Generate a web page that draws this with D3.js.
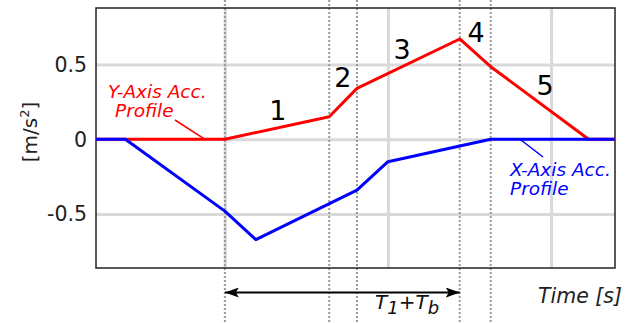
<!DOCTYPE html>
<html>
<head>
<meta charset="utf-8">
<script src="https://cdn.jsdelivr.net/npm/d3@7"></script>
<style>
  html, body { margin: 0; padding: 0; background: #fff; }
  svg { display: block; }
  text { font-family: "DejaVu Sans", sans-serif; }
</style>
</head>
<body>
<svg id="chart" width="625" height="323"></svg>
<script>
// Acceleration profiles (time in s, acceleration in m/s^2)
const yProfileT = [0.21, 1.0, 1.64, 1.81, 2.44, 2.63, 3.23, 3.39];
const yProfileV = [0, 0, 0.15, 0.34, 0.67, 0.485, 0, 0];
const xProfileT = [0.21, 0.39, 1.0, 1.19, 1.81, 2.0, 2.63, 3.39];
const xProfileV = [0, 0, -0.48, -0.67, -0.34, -0.15, 0, 0];

// Phase boundaries (dotted markers) and phase numbers
const phaseBounds = [1.0, 1.64, 1.81, 2.44, 2.63];
const phaseLabels = ["1", "2", "3", "4", "5"];
const phaseLabelT = [1.325, 1.724, 2.086, 2.54, 2.963];
const phaseLabelV = [0.13, 0.35, 0.537, 0.65, 0.297];

const xGridTicks = [1, 2, 3];
const yTicks = [-0.5, 0, 0.5];
const yTickLabels = ["-0.5", "0", "0.5"];

const W = 625, H = 323;
const m = { left: 96, top: 8, right: 10, bottom: 55 };
const x = d3.scaleLinear().domain([0.21, 3.392]).range([m.left, W - m.right]);
const y = d3.scaleLinear().domain([-0.86, 0.877]).range([H - m.bottom, m.top]);

const svg = d3.select("#chart");

// Grid lines
svg.append("g")
  .attr("transform", `translate(0,${H - m.bottom})`)
  .call(d3.axisBottom(x).tickValues(xGridTicks).tickSize(-(H - m.bottom - m.top)).tickFormat(""))
  .call(g => g.select(".domain").remove())
  .call(g => g.selectAll("line").attr("stroke", "#d9d9d9").attr("stroke-width", 3));

svg.append("g")
  .attr("transform", `translate(${m.left},0)`)
  .call(d3.axisLeft(y).tickValues(yTicks).tickSize(-(W - m.right - m.left)).tickFormat(""))
  .call(g => g.select(".domain").remove())
  .call(g => g.selectAll("line").attr("stroke", "#d9d9d9").attr("stroke-width", 3));

// Y tick labels
svg.append("g").selectAll("text")
  .data(yTicks)
  .join("text")
  .attr("x", 87)
  .attr("y", d => y(d))
  .attr("dy", "0.36em")
  .attr("text-anchor", "end")
  .attr("font-size", 20.5)
  .attr("fill", "#222")
  .text((d, i) => yTickLabels[i]);

// Phase boundary markers spanning the whole figure height
svg.append("g").selectAll("line")
  .data(phaseBounds)
  .join("line")
  .attr("x1", d => x(d)).attr("x2", d => x(d))
  .attr("y1", 0).attr("y2", H)
  .attr("stroke", "#999")
  .attr("stroke-width", 2)
  .attr("stroke-dasharray", "2,2");

// Frame
svg.append("rect")
  .attr("x", m.left).attr("y", m.top)
  .attr("width", W - m.right - m.left)
  .attr("height", H - m.bottom - m.top)
  .attr("fill", "none")
  .attr("stroke", "#222")
  .attr("stroke-width", 1.5);

const line = d3.line().x(d => x(d[0])).y(d => y(d[1]));

// Y-axis acceleration (red), then X-axis acceleration (blue) on top
svg.append("path")
  .datum(d3.zip(yProfileT, yProfileV))
  .attr("d", line)
  .attr("fill", "none")
  .attr("stroke", "#ff0000")
  .attr("stroke-width", 3)
  .attr("stroke-linejoin", "round");

svg.append("path")
  .datum(d3.zip(xProfileT, xProfileV))
  .attr("d", line)
  .attr("fill", "none")
  .attr("stroke", "#0000ff")
  .attr("stroke-width", 3)
  .attr("stroke-linejoin", "round");

// Phase numbers
svg.append("g").selectAll("text")
  .data(phaseLabels)
  .join("text")
  .attr("x", (d, i) => x(phaseLabelT[i]))
  .attr("y", (d, i) => y(phaseLabelV[i]))
  .attr("text-anchor", "middle")
  .attr("font-size", 27)
  .attr("fill", "#000")
  .text(d => d);

// Profile annotations
const yNote = svg.append("g").attr("fill", "#ff0000");
yNote.append("line")
  .attr("x1", 175).attr("y1", 120).attr("x2", 205).attr("y2", y(0))
  .attr("stroke", "#ff0000").attr("stroke-width", 1.5);
yNote.append("text").attr("x", 108).attr("y", 98)
  .attr("font-size", 18.5).attr("font-style", "italic").text("Y-Axis Acc.");
yNote.append("text").attr("x", 115).attr("y", 117)
  .attr("font-size", 18.5).attr("font-style", "italic").text("Profile");

const xNote = svg.append("g").attr("fill", "#0000ff");
xNote.append("line")
  .attr("x1", 520).attr("y1", y(0)).attr("x2", 543).attr("y2", 157)
  .attr("stroke", "#0000ff").attr("stroke-width", 1.5);
xNote.append("text").attr("x", 510).attr("y", 176)
  .attr("font-size", 18.5).attr("font-style", "italic").text("X-Axis Acc.");
xNote.append("text").attr("x", 510).attr("y", 195)
  .attr("font-size", 18.5).attr("font-style", "italic").text("Profile");

// Duration arrow T1 + Tb
const defs = svg.append("defs");
defs.append("marker")
  .attr("id", "head")
  .attr("viewBox", "0 0 14 10")
  .attr("refX", 14).attr("refY", 5)
  .attr("markerWidth", 14).attr("markerHeight", 10)
  .attr("markerUnits", "userSpaceOnUse")
  .attr("orient", "auto-start-reverse")
  .append("path").attr("d", "M0,0 L14,5 L0,10 L3,5 Z").attr("fill", "#000");

svg.append("line")
  .attr("x1", x(phaseBounds[0])).attr("x2", x(phaseBounds[3]))
  .attr("y1", 292.5).attr("y2", 292.5)
  .attr("stroke", "#000").attr("stroke-width", 2)
  .attr("marker-start", "url(#head)")
  .attr("marker-end", "url(#head)");

const tLabel = svg.append("text")
  .attr("x", 375).attr("y", 309)
  .attr("font-size", 20).attr("font-style", "italic").attr("fill", "#111");
tLabel.append("tspan").text("T");
tLabel.append("tspan").attr("font-size", 18).attr("dy", 5).text("1");
tLabel.append("tspan").attr("dy", -5).text("+T");
tLabel.append("tspan").attr("font-size", 18).attr("dy", 5).text("b");

// Axis titles
svg.append("text")
  .attr("x", 622).attr("y", 303)
  .attr("text-anchor", "end")
  .attr("font-size", 20.5).attr("font-style", "italic").attr("fill", "#222")
  .text("Time [s]");

const yTitle = svg.append("text")
  .attr("transform", "translate(37,132) rotate(-90)")
  .attr("text-anchor", "middle")
  .attr("font-size", 20).attr("fill", "#222");
yTitle.append("tspan").text("[m/s");
yTitle.append("tspan").attr("font-size", 13).attr("dy", -8).text("2");
yTitle.append("tspan").attr("dy", 8).text("]");
</script>
</body>
</html>
